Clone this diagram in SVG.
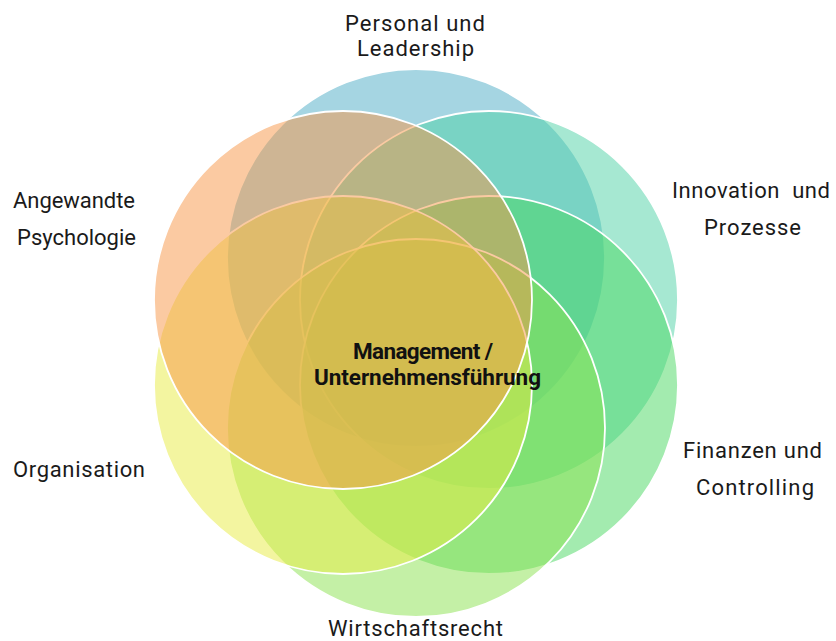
<svg xmlns="http://www.w3.org/2000/svg" width="836" height="641" viewBox="0 0 836 641">
<style>
.c{fill-opacity:0.5;stroke:#ffffff;stroke-width:1.8}
.l{font-family:Roboto,"Liberation Sans",sans-serif;font-size:22px;fill:#1a1a1a}
.b{font-family:Roboto,"Liberation Sans",sans-serif;font-size:22.5px;font-weight:bold;fill:#111111}
</style>
<rect width="836" height="641" fill="#ffffff"/>
<g id="circle-personal"><circle class="c" cx="416" cy="258" r="189" fill="#4bacc6"/></g>
<g id="circle-innovation"><circle class="c" cx="489" cy="300" r="189" fill="#4dd1a5"/></g>
<g id="circle-finanzen"><circle class="c" cx="489" cy="385" r="189" fill="#47d75f"/></g>
<g id="circle-wirtschaftsrecht"><circle class="c" cx="416" cy="428" r="189" fill="#89e14d"/></g>
<g id="circle-organisation"><circle class="c" cx="343" cy="385" r="189" fill="#e7eb41"/></g>
<g id="circle-psychologie"><circle class="c" cx="343" cy="300" r="189" fill="#f79646"/></g>
<g id="connectors"></g>
<g id="label-personal"><text class="l" x="345" y="31" textLength="140" lengthAdjust="spacing">Personal und</text><text class="l" x="357" y="56" textLength="117" lengthAdjust="spacing">Leadership</text></g>
<g id="label-psychologie"><text class="l" x="13" y="208" textLength="122" lengthAdjust="spacing">Angewandte</text><text class="l" x="17" y="245" textLength="119" lengthAdjust="spacing">Psychologie</text></g>
<g id="label-innovation"><text class="l" x="672" y="198" textLength="158" lengthAdjust="spacing" xml:space="preserve">Innovation  und</text><text class="l" x="704" y="235" textLength="97" lengthAdjust="spacing">Prozesse</text></g>
<g id="label-finanzen"><text class="l" x="683" y="458" textLength="139" lengthAdjust="spacing">Finanzen und</text><text class="l" x="696" y="495" textLength="118" lengthAdjust="spacing">Controlling</text></g>
<g id="label-organisation"><text class="l" x="13" y="477" textLength="132" lengthAdjust="spacing">Organisation</text></g>
<g id="label-wirtschaftsrecht"><text class="l" x="328" y="636" textLength="175" lengthAdjust="spacing">Wirtschaftsrecht</text></g>
<g id="label-center"><text class="b" x="353" y="359" textLength="140" lengthAdjust="spacing">Management /</text><text class="b" x="314" y="385" textLength="227" lengthAdjust="spacing">Unternehmensführung</text></g>
</svg>
